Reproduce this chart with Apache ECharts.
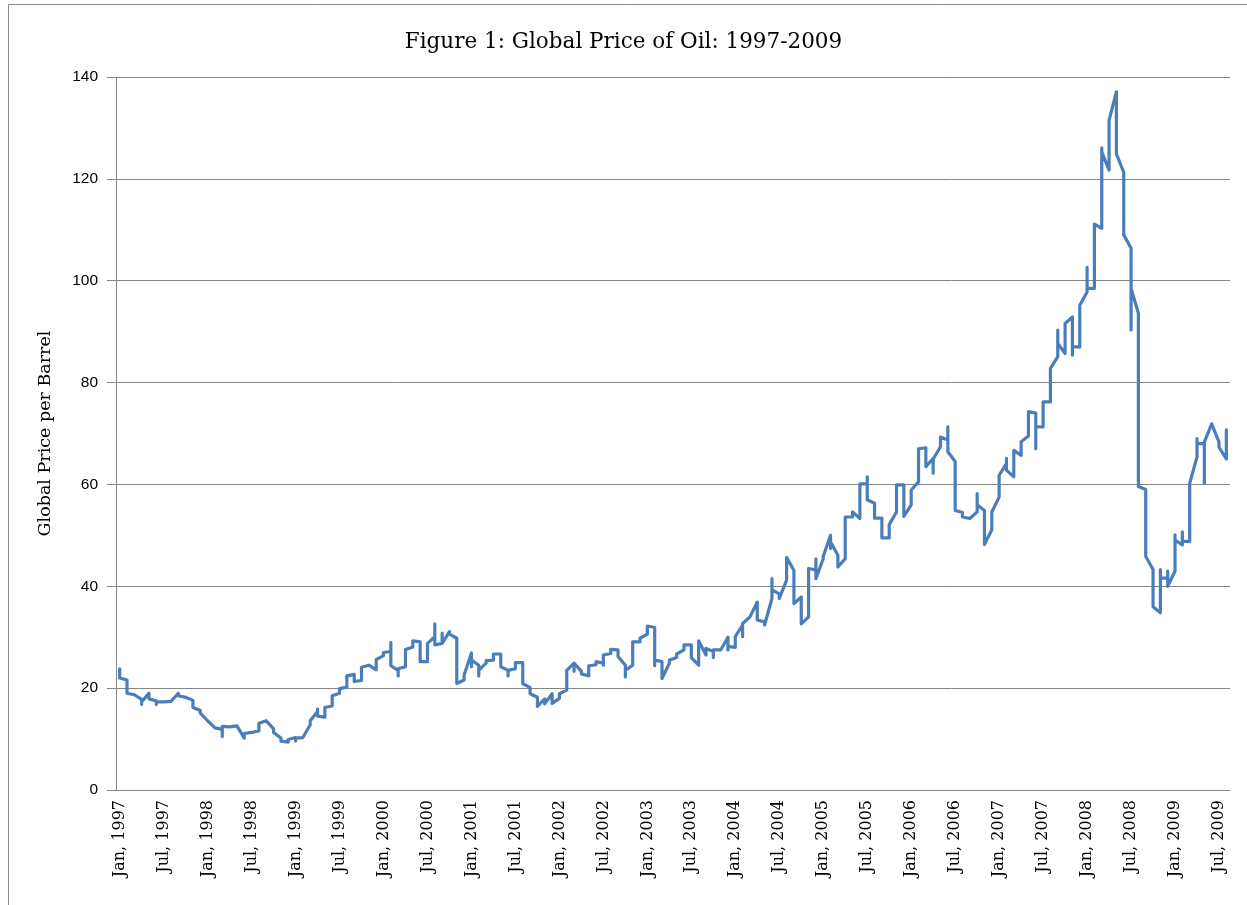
<!DOCTYPE html>
<html>
<head>
<meta charset="utf-8">
<script src="https://cdn.jsdelivr.net/npm/echarts@6/dist/echarts.min.js"></script>
<style>
html,body{margin:0;padding:0;background:#fff;}
#chart{width:1247px;height:905px;}
</style>
</head>
<body>
<div id="chart"></div>
<script>
// Categories: one per month, Jan 1997 .. Aug 2009
const monthNames = ['Jan','Feb','Mar','Apr','May','Jun','Jul','Aug','Sep','Oct','Nov','Dec'];
const firstYear = 1997;
const monthCount = 152;
const categories = [];
for (let i = 0; i < monthCount; i++) {
  categories.push(monthNames[i % 12] + ', ' + (firstYear + Math.floor(i / 12)));
}

// Weekly price readings grouped by month (one sub-array per month, in order)
const prices = [
  [23.8,22.0,21.9],[21.6,19.0,18.8],[18.7,18.5],[17.8,16.8,17.3],[19.0,17.9],[17.5,16.8,17.3],
  [17.3,17.6,17.2],[17.4,17.2,17.5],[19.0,18.5],[18.2,17.9],[17.6,17.0,16.2],[15.6,15.1],
  [13.6,13.4],[12.2,12.0],[11.9,10.5,12.5],[12.4,12.3],[12.6,12.3],[10.2,11.1,11.2],
  [11.3,11.0,11.5],[11.6,11.8,13.1],[13.6,13.8],[12.0,11.3,11.1],[10.2,9.6],[9.4,9.9,10.2],
  [10.3,9.6,9.4,10.2],[10.3,10.5],[12.8,13.6],[15.4,15.9,14.5],[14.3,14.4,16.2],[16.5,18.5],
  [19.0,19.9],[20.2,22.4],[22.7,21.3],[21.5,24.1],[24.5,24.3],[23.6,25.6],
  [26.4,27.0],[27.2,29.0,24.4],[23.5,22.4,23.8],[24.2,27.6],[28.1,29.3],[29.1,27.5,25.2],
  [25.2,28.8],[30.1,32.6,28.5],[28.8,30.8,30.4,28.8],[31.1,30.6],[29.8,29.5,20.9],[21.6,22.6],
  [26.9,24.2,25.5],[24.5,22.4,23.5],[24.9,25.4],[25.5,26.7],[26.7,24.2],[23.5,22.4,23.5],
  [23.8,25.0],[25.0,20.9],[20.1,18.9],[18.2,16.4],[17.9,16.9,17.2],[18.9,17.0],
  [18.0,18.9,18.6],[19.6,23.5],[24.9,23.3,24.9],[23.3,22.8],[22.4,24.4],[24.6,25.2],
  [24.9,26.2,24.5,26.5],[26.8,27.6],[27.5,26.2],[24.5,22.2,23.5],[24.5,29.1],[29.1,29.8],
  [30.6,32.2],[31.9,24.4,24.5,25.5],[25.2,23.5,21.9],[24.9,25.5],[26.0,26.7],[27.5,27.3,28.5],
  [28.5,26.8,26.0],[24.5,25.8,29.3],[26.5,27.8],[27.2,26.0,27.5],[27.5,27.6],[30.0,27.5,28.2],
  [28.0,30.1],[32.4,31.4,30.1,32.7],[34.0],[36.9,36.3,33.4],[33.0,32.4],[37.6,39.3,41.5,39.3],
  [38.5,37.6],[41.2,42.5,45.7],[43.1,41.8,36.6],[37.9,37.5,32.6],[34.0,35.3,43.5],[43.2,45.4,41.5],
  [45.4,45.9],[50.0,48.7,49.8,47.4,48.7],[46.1,43.8],[45.4,47.4,53.6],[53.6,54.6],[53.3,54.9,55.9,60.1],
  [60.1,61.5,57.0],[56.3,53.4],[53.4,49.5],[49.5,52.1],[54.6,59.9],[59.9,53.7],
  [56.0,58.9],[60.5,67.0],[67.2,63.5],[65.1,62.2,65.0],[67.4,69.3],[68.7,71.3,66.4],
  [64.5,54.9],[54.5,53.6],[53.3,53.5],[54.6,58.2,56.0],[54.9,48.2],[51.1,52.4,54.6],
  [57.5,61.8],[64.1,65.1,62.8],[61.5,65.1,66.7],[65.7,68.4],[69.5,74.3,74.0],[74.0,67.0,69.3,71.3],
  [71.3,76.2],[76.2,81.8,82.8],[85.1,86.1,90.3,87.7],[85.7,89.7,91.6],[92.9,85.4,87.0],[87.0,95.2],
  [97.8,102.6,98.5],[98.5,111.1,110.9],[110.3,126.1,125.3],[121.7,131.5],[137.1,124.9],[121.3,109.3,111.6,109.0],
  [106.4,90.3,98.5],[93.6,82.4,59.6],[59.0,45.9],[43.3,36.0],[34.8,43.3,41.6],[41.6,43.0,40.0],
  [43.0,50.1,49.1],[48.1,50.7,48.8],[48.8,60.2],[65.4,69.0,68.0],[68.0,60.2,68.3],[71.9],
  [68.3,67.3],[65.0,70.7]
];

// Y axis ticks
const yMin = 0, yMax = 140, yStep = 20;

const seriesData = [];
prices.forEach((vals, i) => vals.forEach(v => seriesData.push([i, v])));

const chart = echarts.init(document.getElementById('chart'), null, {renderer: 'canvas'});
chart.setOption({
  animation: false,
  backgroundColor: '#fff',
  title: {
    text: 'Figure 1: Global Price of Oil: 1997-2009',
    left: 'center',
    top: 26,
    textStyle: {fontFamily: 'DejaVu Serif', fontSize: 21.5, fontWeight: 'normal', color: '#000'}
  },
  graphic: [{
    type: 'rect', silent: true,
    shape: {x: 8.5, y: 4.5, width: 1400, height: 1000},
    style: {fill: 'none', stroke: '#8c8c8c', lineWidth: 1}
  }],
  grid: {left: 116, right: 17, top: 77, bottom: 115, containLabel: false},
  xAxis: {
    type: 'category',
    data: categories,
    boundaryGap: true,
    axisLine: {show: true, lineStyle: {color: '#868686', width: 1}},
    axisTick: {show: false},
    splitLine: {show: false},
    axisLabel: {
      interval: 5, rotate: 90, margin: 10,
      fontFamily: 'DejaVu Serif', fontSize: 16, color: '#000'
    }
  },
  yAxis: {
    type: 'value',
    min: yMin, max: yMax, interval: yStep,
    name: 'Global Price per Barrel',
    nameLocation: 'middle',
    nameGap: 62,
    nameRotate: 90,
    nameTextStyle: {fontFamily: 'DejaVu Serif', fontSize: 17.5, color: '#000'},
    axisLine: {show: true, lineStyle: {color: '#868686', width: 1}},
    axisTick: {show: true, length: 9, lineStyle: {color: '#868686'}},
    splitLine: {show: true, lineStyle: {color: '#868686', width: 1}},
    axisLabel: {margin: 18, fontFamily: 'Liberation Sans', fontSize: 15.5, color: '#000'}
  },
  series: [{
    type: 'line',
    data: seriesData,
    showSymbol: false,
    symbol: 'none',
    smooth: false,
    lineStyle: {color: '#4A7EBB', width: 3.2, join: 'round', cap: 'round'},
    itemStyle: {color: '#4A7EBB'}
  }]
});
</script>
</body>
</html>
